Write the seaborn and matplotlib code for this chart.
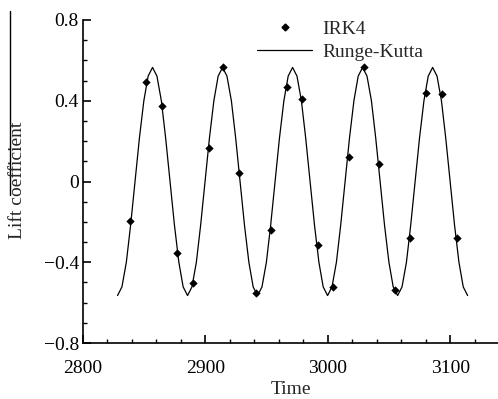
import matplotlib
matplotlib.use("Agg")
import matplotlib.pyplot as plt
from matplotlib.lines import Line2D
from matplotlib.ticker import MultipleLocator, FuncFormatter
import seaborn as sns
import pandas as pd

# Runge-Kutta reference curve
rk_time = [
    2828.2, 2831.8, 2835.4, 2838.9, 2842.5, 2846.1, 2849.7, 2853.2, 2856.8, 2860.4,
    2864.0, 2867.5, 2871.1, 2874.7, 2878.3, 2881.8,
    2885.4, 2889.0, 2892.6, 2896.1, 2899.7, 2903.3, 2906.9, 2910.4, 2914.0, 2917.6,
    2921.2, 2924.7, 2928.3, 2931.9, 2935.5, 2939.0,
    2942.6, 2946.2, 2949.8, 2953.3, 2956.9, 2960.5, 2964.1, 2967.6, 2971.2, 2974.8,
    2978.4, 2981.9, 2985.5, 2989.1, 2992.7, 2996.2,
    2999.8, 3003.4, 3007.0, 3010.5, 3014.1, 3017.7, 3021.3, 3024.8, 3028.4, 3032.0,
    3035.6, 3039.1, 3042.7, 3046.3, 3049.9, 3053.4,
    3057.0, 3060.6, 3064.2, 3067.7, 3071.3, 3074.9, 3078.5, 3082.0, 3085.6, 3089.2,
    3092.8, 3096.3, 3099.9, 3103.5, 3107.1, 3110.6,
    3114.2,
]
rk_lift = [
    -0.565, -0.522, -0.400, -0.216, 0.000, 0.216, 0.400, 0.522, 0.565, 0.522,
    0.400, 0.216, 0.000, -0.216, -0.400, -0.522,
    -0.565, -0.522, -0.400, -0.216, 0.000, 0.216, 0.400, 0.522, 0.565, 0.522,
    0.400, 0.216, 0.000, -0.216, -0.400, -0.522,
    -0.565, -0.522, -0.400, -0.216, 0.000, 0.216, 0.400, 0.522, 0.565, 0.522,
    0.400, 0.216, 0.000, -0.216, -0.400, -0.522,
    -0.565, -0.522, -0.400, -0.216, 0.000, 0.216, 0.400, 0.522, 0.565, 0.522,
    0.400, 0.216, 0.000, -0.216, -0.400, -0.522,
    -0.565, -0.522, -0.400, -0.216, 0.000, 0.216, 0.400, 0.522, 0.565, 0.522,
    0.400, 0.216, 0.000, -0.216, -0.400, -0.522,
    -0.565,
]

# IRK4 samples
irk_time = [2838.4, 2851.4, 2864.5, 2877.0, 2889.5, 2902.9, 2914.5, 2927.6, 2941.0, 2953.2,
            2966.3, 2979.0, 2991.6, 3004.1, 3016.9, 3029.4, 3041.9, 3054.7, 3067.2, 3080.5,
            3093.1, 3105.9]
irk_lift = [-0.197, 0.491, 0.375, -0.352, -0.501, 0.168, 0.566, 0.043, -0.552, -0.240,
            0.468, 0.409, -0.317, -0.521, 0.123, 0.569, 0.088, -0.539, -0.279, 0.439,
            0.434, -0.282]

x_ticks = [2800, 2900, 3000, 3100]
y_ticks = [-0.8, -0.4, 0, 0.4, 0.8]

sns.set_style("ticks")
plt.rcParams['font.family'] = ['Liberation Serif', 'DejaVu Serif']

fig = plt.figure(figsize=(4.98, 3.99), dpi=100)
ax = fig.add_axes([83 / 498, 1 - 343 / 399, 1 - 83 / 498, (343 - 20) / 399])

rk_df = pd.DataFrame({"Time": rk_time, "Lift": rk_lift})
irk_df = pd.DataFrame({"Time": irk_time, "Lift": irk_lift})

sns.lineplot(data=rk_df, x="Time", y="Lift", ax=ax, color="black", lw=0.9,
             sort=False, estimator=None, clip_on=False)
sns.scatterplot(data=irk_df, x="Time", y="Lift", ax=ax, color="black", marker="D",
                s=18, linewidth=0, zorder=3)

ax.set_xlim(2800, 3139)
ax.set_ylim(-0.8, 0.8)
ax.set_xticks(x_ticks)
ax.set_yticks(y_ticks)
ax.xaxis.set_minor_locator(MultipleLocator(20))
ax.yaxis.set_minor_locator(MultipleLocator(0.1))
fmt = FuncFormatter(lambda v, p: ("%g" % v).replace("-", "\u2212"))
ax.yaxis.set_major_formatter(fmt)
ax.xaxis.set_major_formatter(FuncFormatter(lambda v, p: "%g" % v))

for s in ["top", "right"]:
    ax.spines[s].set_visible(False)
for s in ["left", "bottom"]:
    ax.spines[s].set_linewidth(1.2)
    ax.spines[s].set_color("black")

ax.tick_params(which="major", direction="in", length=6, width=1.2, labelsize=14,
               colors="black")
ax.tick_params(which="minor", direction="in", length=3, width=1.0, colors="black")
ax.tick_params(axis="x", which="major", pad=12)
ax.tick_params(axis="y", which="major", pad=3)

ax.set_xlabel("Time", fontsize=14, labelpad=3)
ax.set_ylabel("")
fig.text(17 / 498, 1 - 180 / 399, "Lift coefficient", rotation=90, fontsize=14,
         ha="center", va="center")
fig.add_artist(Line2D([10 / 498, 10 / 498], [1 - 11 / 399, 1 - 195 / 399],
                      transform=fig.transFigure, color="black", lw=1.0))

handles = [
    Line2D([], [], color="black", marker="D", markersize=3.5, linestyle="none"),
    Line2D([], [], color="black", lw=0.9),
]
ax.legend(handles, ["IRK4", "Runge-Kutta"], frameon=False, loc="upper left",
          bbox_to_anchor=(0.419, 0.998), borderaxespad=0, borderpad=0,
          handlelength=2.85, handletextpad=0.5, labelspacing=0.25, fontsize=14)

fig.savefig("out.png", dpi=100)
